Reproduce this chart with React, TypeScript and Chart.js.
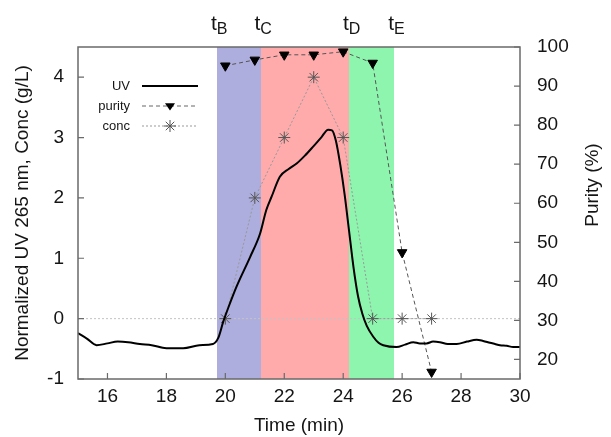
import React, { useEffect, useRef } from 'react';
import { Chart, registerables } from 'chart.js';

Chart.register(...registerables);

// ---- data ----
const uvTime = [15, 15.3, 15.63, 16.0, 16.35, 16.7, 17.1, 17.5, 18.0, 18.57, 19.12, 19.58, 19.76, 19.93, 20.1, 20.38, 20.84, 21.18, 21.39, 21.57, 21.85, 22.15, 22.42, 22.7, 22.98, 23.25, 23.49, 23.62, 23.75, 23.9, 24.05, 24.2, 24.35, 24.5, 24.65, 24.8, 25.02, 25.2, 25.36, 25.81, 26.1, 26.38, 26.6, 26.83, 27.05, 27.28, 27.55, 27.85, 28.2, 28.53, 28.75, 28.98, 29.15, 29.32, 29.55, 29.77, 30];
const uvValue = [-0.24, -0.33, -0.44, -0.41, -0.38, -0.39, -0.42, -0.44, -0.49, -0.49, -0.44, -0.42, -0.32, -0.05, 0.18, 0.53, 1.02, 1.41, 1.8, 2.02, 2.35, 2.48, 2.57, 2.7, 2.85, 3.0, 3.13, 3.12, 2.95, 2.55, 2.05, 1.45, 0.85, 0.38, 0.08, -0.12, -0.3, -0.4, -0.44, -0.47, -0.43, -0.39, -0.41, -0.41, -0.38, -0.39, -0.42, -0.42, -0.38, -0.35, -0.37, -0.4, -0.42, -0.44, -0.45, -0.47, -0.47];

const sampleTime = [20, 21, 22, 23, 24, 25, 26, 27];
const purityValue = [95.2, 96.7, 98, 98, 98.8, 95.9, 47.4, 16.8];
const concValue = [0, 2, 3, 4, 3, 0, 0, 0];

const baselineTime = [15, 30];
const baselineValue = [0, 0];

const bandEdges = [19.71, 21.2, 24.2, 25.72];
const bandColors = ['#adadde', '#ffabab', '#8ef5ae'];
const bandLabels = ['B', 'C', 'D', 'E'];

const xTicks = [16, 18, 20, 22, 24, 26, 28, 30];
const leftTicks = [-1, 0, 1, 2, 3, 4];
const rightTicks = [20, 30, 40, 50, 60, 70, 80, 90, 100];

const FONT = '"Liberation Sans", Arial, sans-serif';
const TEXT = '#151515';
const FRAME = '#6a6a6a';

function drawTriangleDown(ctx: CanvasRenderingContext2D, x: number, y: number, r: number) {
  ctx.beginPath();
  ctx.moveTo(x - r, y - r * 0.55);
  ctx.lineTo(x + r, y - r * 0.55);
  ctx.lineTo(x, y + r * 0.9);
  ctx.closePath();
  ctx.fill();
}

function drawStar(ctx: CanvasRenderingContext2D, x: number, y: number, r: number) {
  ctx.beginPath();
  for (let k = 0; k < 4; k++) {
    const a = (k * Math.PI) / 4;
    ctx.moveTo(x - Math.cos(a) * r, y - Math.sin(a) * r);
    ctx.lineTo(x + Math.cos(a) * r, y + Math.sin(a) * r);
  }
  ctx.stroke();
}

const overlayPlugin = {
  id: 'overlay',
  beforeDatasetsDraw(chart: any) {
    const { ctx, chartArea: a, scales } = chart;
    const x = scales.x;
    ctx.save();
    for (let i = 0; i < bandEdges.length - 1; i++) {
      const x0 = Math.round(x.getPixelForValue(bandEdges[i]));
      const x1 = Math.round(x.getPixelForValue(bandEdges[i + 1]));
      ctx.fillStyle = bandColors[i];
      ctx.fillRect(x0, a.top, x1 - x0, a.bottom - a.top);
    }
    ctx.restore();
  },
  afterDatasetsDraw(chart: any) {
    const { ctx, chartArea: a, scales } = chart;
    const x = scales.x;
    const y = scales.y;
    const y2 = scales.y2;
    ctx.save();
    // frame
    ctx.strokeStyle = FRAME;
    ctx.lineWidth = 1.5;
    ctx.strokeRect(a.left, a.top, a.right - a.left, a.bottom - a.top);
    // inward ticks
    ctx.lineWidth = 1.2;
    ctx.beginPath();
    const TL = 6;
    xTicks.forEach((v) => {
      const px = x.getPixelForValue(v);
      ctx.moveTo(px, a.bottom);
      ctx.lineTo(px, a.bottom - TL);
    });
    leftTicks.forEach((v) => {
      const py = y.getPixelForValue(v);
      ctx.moveTo(a.left, py);
      ctx.lineTo(a.left + TL, py);
    });
    rightTicks.forEach((v) => {
      const py = y2.getPixelForValue(v);
      ctx.moveTo(a.right, py);
      ctx.lineTo(a.right - TL, py);
    });
    ctx.stroke();

    // legend
    const lx = 130;
    const ls = 142;
    const le = 198;
    const rows = [86, 106, 126];
    ctx.font = `13px ${FONT}`;
    ctx.fillStyle = TEXT;
    ctx.textAlign = 'right';
    ctx.textBaseline = 'middle';
    ctx.fillText('UV', lx, rows[0]);
    ctx.fillText('purity', lx, rows[1]);
    ctx.fillText('conc', lx, rows[2]);
    // UV sample
    ctx.strokeStyle = '#000';
    ctx.lineWidth = 2;
    ctx.setLineDash([]);
    ctx.beginPath();
    ctx.moveTo(ls, rows[0]);
    ctx.lineTo(le, rows[0]);
    ctx.stroke();
    // purity sample
    ctx.strokeStyle = '#666';
    ctx.lineWidth = 1;
    ctx.setLineDash([4, 3]);
    ctx.beginPath();
    ctx.moveTo(ls, rows[1]);
    ctx.lineTo(le, rows[1]);
    ctx.stroke();
    ctx.setLineDash([]);
    ctx.fillStyle = '#000';
    drawTriangleDown(ctx, (ls + le) / 2, rows[1], 5);
    // conc sample
    ctx.strokeStyle = '#999';
    ctx.lineWidth = 1;
    ctx.setLineDash([2, 2]);
    ctx.beginPath();
    ctx.moveTo(ls, rows[2]);
    ctx.lineTo(le, rows[2]);
    ctx.stroke();
    ctx.setLineDash([]);
    ctx.strokeStyle = '#555';
    drawStar(ctx, (ls + le) / 2, rows[2], 6);

    // t labels above bands
    ctx.fillStyle = TEXT;
    ctx.textAlign = 'left';
    ctx.textBaseline = 'alphabetic';
    bandEdges.forEach((v, i) => {
      const px = x.getPixelForValue(v);
      ctx.font = `21px ${FONT}`;
      const tw = ctx.measureText('t').width;
      ctx.font = `16px ${FONT}`;
      const sw = ctx.measureText(bandLabels[i]).width;
      const start = px + 2.5 - (tw + sw) / 2;
      ctx.font = `21px ${FONT}`;
      ctx.fillText('t', start, 30);
      ctx.font = `16px ${FONT}`;
      ctx.fillText(bandLabels[i], start + tw, 34);
    });

    // right axis title
    ctx.save();
    ctx.translate(593, 185);
    ctx.rotate(-Math.PI / 2);
    ctx.font = `19px ${FONT}`;
    ctx.textAlign = 'center';
    ctx.textBaseline = 'middle';
    ctx.fillText('Purity (%)', 0, 0);
    ctx.restore();

    ctx.restore();
  },
};

export default function App() {
  const ref = useRef<HTMLCanvasElement | null>(null);
  useEffect(() => {
    if (!ref.current) return;
    Chart.defaults.font.family = FONT;
    const chart = new Chart(ref.current, {
      type: 'line',
      data: {
        datasets: [
          {
            label: 'UV',
            data: uvTime.map((t, i) => ({ x: t, y: uvValue[i] })),
            yAxisID: 'y',
            borderColor: '#000',
            borderWidth: 2,
            pointRadius: 0,
            cubicInterpolationMode: 'monotone',
            order: 0,
          },
          {
            label: 'purity',
            data: sampleTime.map((t, i) => ({ x: t, y: purityValue[i] })),
            yAxisID: 'y2',
            borderColor: '#555',
            borderWidth: 1,
            borderDash: [4, 3],
            pointStyle: 'triangle',
            pointRotation: 180,
            pointRadius: 5.5,
            pointBackgroundColor: '#000',
            pointBorderColor: '#000',
            order: 1,
          },
          {
            label: 'conc',
            data: sampleTime.map((t, i) => ({ x: t, y: concValue[i] })),
            yAxisID: 'y',
            borderColor: '#999',
            borderWidth: 1,
            borderDash: [2, 2],
            pointStyle: 'star',
            pointRadius: 6,
            pointBorderColor: '#555',
            pointBorderWidth: 1,
            order: 2,
          },
          {
            label: 'baseline',
            data: baselineTime.map((t, i) => ({ x: t, y: baselineValue[i] })),
            yAxisID: 'y',
            borderColor: '#c4c4c4',
            borderWidth: 1,
            borderDash: [2, 2],
            pointRadius: 0,
            order: 3,
          },
        ],
      },
      options: {
        animation: false,
        responsive: false,
        maintainAspectRatio: false,
        layout: { padding: { top: 47, left: 0, right: 0, bottom: 0 } },
        plugins: { legend: { display: false }, tooltip: { enabled: false } },
        scales: {
          x: {
            type: 'linear',
            min: 15,
            max: 30,
            afterBuildTicks: (s: any) => {
              s.ticks = xTicks.map((v) => ({ value: v }));
            },
            afterFit: (s: any) => {
              s.height = 58;
            },
            grid: { display: false, drawTicks: false },
            border: { display: false },
            ticks: { padding: 6, autoSkip: false, maxRotation: 0, font: { size: 19 }, color: TEXT },
            title: { display: true, text: 'Time (min)', font: { size: 19 }, color: TEXT, padding: { top: 1, bottom: 0 } },
          },
          y: {
            type: 'linear',
            position: 'left',
            min: -1,
            max: 4.5,
            afterBuildTicks: (s: any) => {
              s.ticks = leftTicks.map((v) => ({ value: v }));
            },
            afterFit: (s: any) => {
              s.width = 78;
            },
            grid: { display: false, drawTicks: false },
            border: { display: false },
            ticks: { padding: 14, font: { size: 19 }, color: TEXT },
            title: { display: true, text: 'Normalized UV 265 nm, Conc (g/L)', font: { size: 19 }, color: TEXT, padding: { top: 11, bottom: 0 } },
          },
          y2: {
            type: 'linear',
            position: 'right',
            min: 15,
            max: 100,
            afterBuildTicks: (s: any) => {
              s.ticks = rightTicks.map((v) => ({ value: v }));
            },
            afterFit: (s: any) => {
              s.width = 91;
            },
            grid: { display: false, drawTicks: false },
            border: { display: false },
            ticks: { padding: 17, font: { size: 19 }, color: TEXT },
            title: { display: false },
          },
        },
      },
      plugins: [overlayPlugin],
    } as any);
    return () => chart.destroy();
  }, []);
  return (
    <div style={{ position: 'fixed', left: 0, top: 0, width: 611, height: 437, background: '#fff' }}>
      <canvas ref={ref} width={611} height={437} style={{ display: 'block' }} />
    </div>
  );
}
